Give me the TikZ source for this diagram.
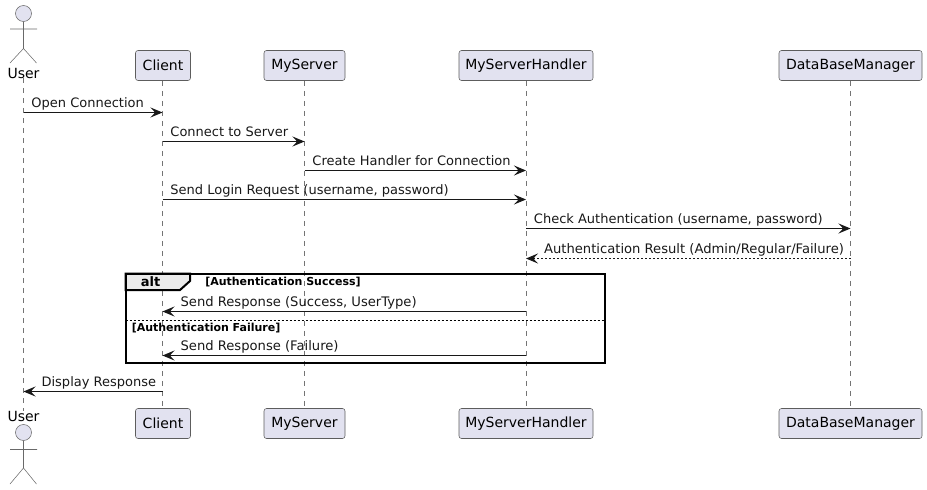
\documentclass[tikz,border=0pt]{standalone}
\usepackage{fontspec}
\setmainfont{DejaVu Sans}
\usetikzlibrary{arrows.meta,positioning,calc}
\definecolor{teilfill}{HTML}{E2E2F0}
\definecolor{teilline}{HTML}{181818}
\tikzset{
  teil/.style={draw=teilline!70,line width=0.4pt,rounded corners=1.9pt,fill=teilfill,inner sep=0pt,
               minimum height=22.5pt,font=\fontsize{10.5}{12}\selectfont,text=black},
  figur/.style={draw=teilline!65,line width=0.4pt},
  kopf/.style={circle,draw=teilline!65,fill=teilfill,line width=0.4pt,inner sep=0pt,minimum size=12pt},
  akteur/.style={inner sep=0pt,font=\fontsize{10.5}{12}\selectfont,text=black},
  leben/.style={draw=teilline!60,line width=0.35pt,dash pattern=on 3.75pt off 3.75pt},
  nyil/.style={-{Stealth[length=9pt,width=7.5pt,inset=3.5pt]},line width=0.75pt,teilline},
  vnyil/.style={nyil,dash pattern=on 1.5pt off 1.5pt},
  cimke/.style={inner sep=0pt,anchor=base west,font=\fontsize{9.75}{12}\selectfont,text=teilline,
                solid,pos=0,xshift=5.6pt,yshift=3.6pt},
  vissza/.style={cimke,font=\fontsize{9.85}{12}\selectfont,pos=1,xshift=7.6pt},
  rahmen/.style={draw=black,line width=1.5pt},
  feld/.style={inner sep=0pt,font=\fontsize{8.25}{10}\selectfont\bfseries,text=black},
}
\begin{document}
\begin{tikzpicture}[x=0.75pt,y=-0.75pt]
  \useasboundingbox (0,0) rectangle (927,489);
  % obere reihe
  \node[kopf] (userkopf) at (23.5,13.5) {};
  \node[akteur] (user) at (23.5,73) {User};
  \node[teil,minimum width=41.25pt] (client) at (163,65.5) {Client};
  \node[teil,minimum width=60.75pt] (server) at (304.5,65.5) {MyServer};
  \node[teil,minimum width=100.5pt] (handler) at (526,65.5) {MyServerHandler};
  \node[teil,minimum width=107.25pt] (dbm) at (850.5,65.5) {DataBaseManager};
  % untere reihe
  \node[kopf] (userkopf2) at (23.5,432.5) {};
  \node[akteur] (user2) at (23.5,416) {User};
  \node[teil,minimum width=41.25pt] (client2) at (163,423.5) {Client};
  \node[teil,minimum width=60.75pt] (server2) at (304.5,423.5) {MyServer};
  \node[teil,minimum width=100.5pt] (handler2) at (526,423.5) {MyServerHandler};
  \node[teil,minimum width=107.25pt] (dbm2) at (850.5,423.5) {DataBaseManager};
  % figuren
  \draw[figur] (userkopf.south) -- (23.5,48.5) -- (10,63) (23.5,48.5) -- (36.5,63) (10,29) -- (37,29);
  \draw[figur] (userkopf2.south) -- (23.5,468) -- (10,484) (23.5,468) -- (36.5,484) (10,449.5) -- (37,449.5);
  % lebenslinien
  \coordinate (c) at (162.5,0);
  \draw[leben] (user.south) -- (user2.north);
  \draw[leben] (c |- client.south) -- (c |- client2.north);
  \draw[leben] (server.south) -- (server2.north);
  \draw[leben] (handler.south) -- (handler2.north);
  \draw[leben] (dbm.south) -- (dbm2.north);
  % zeilen
  \coordinate (m1) at (0,112.5);
  \coordinate (m2) at (0,141.5);
  \coordinate (m3) at (0,170.5);
  \coordinate (m4) at (0,199.5);
  \coordinate (m5) at (0,228.5);
  \coordinate (m6) at (0,258.5);
  \coordinate (m7) at (0,311.5);
  \coordinate (m8) at (0,355.5);
  \coordinate (m9) at (0,391.5);
  \draw[nyil] (user |- m1) -- node[cimke] (t1) {Open Connection} (c |- m1);
  \draw[nyil] (c |- m2) -- node[cimke] (t2) {Connect to Server} (server |- m2);
  \draw[nyil] (server |- m3) -- node[cimke] (t3) {Create Handler for Connection} (handler |- m3);
  \draw[nyil] (c |- m4) -- node[cimke] (t4) {Send Login Request (username, password)} (handler |- m4);
  \draw[nyil] (handler |- m5) -- node[cimke] (t5) {Check Authentication (username, password)} (dbm |- m5);
  \draw[vnyil] (dbm |- m6) -- node[vissza] (t6) {Authentication Result (Admin/Regular/Failure)} (handler |- m6);
  \draw[nyil] (handler |- m7) -- node[vissza] (t7) {Send Response (Success, UserType)} (c |- m7);
  \draw[nyil] (handler |- m8) -- node[vissza] (t8) {Send Response (Failure)} (c |- m8);
  \draw[nyil] (c |- m9) -- node[vissza,font=\fontsize{9.75}{12}\selectfont] (t9) {Display Response} (user |- m9);
  % alt
  \draw[rahmen,fill=black!8] (125.5,290) -- (125.5,273.5) -- (190,273.5) -- (190,281) -- (180,290) -- cycle;
  \draw[rahmen] (125.5,273.5) rectangle (604.5,362.5);
  \draw[black,line width=0.6pt,dash pattern=on 1.5pt off 1.5pt] (125.5,320.5) -- (604.5,320.5);
  \node[font=\fontsize{9.75}{12}\selectfont\bfseries,inner sep=0pt] (alt) at (150.5,282) {alt};
  \node[feld,anchor=base west] (wenn) at (205,285) {[Authentication Success]};
  \node[feld,anchor=base west] (sonst) at (131.5,331) {[Authentication Failure]};
\end{tikzpicture}
\end{document}
